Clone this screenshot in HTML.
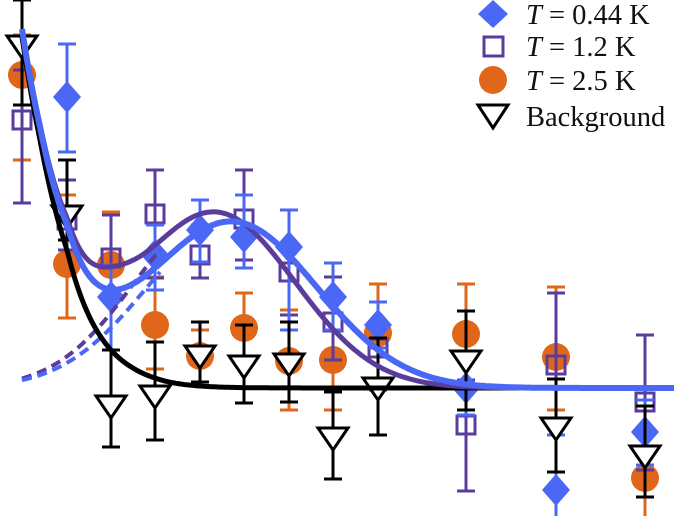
<!DOCTYPE html>
<html><head><meta charset="utf-8"><style>
html,body{margin:0;padding:0;background:#fff;width:674px;height:516px;overflow:hidden}
svg{display:block}
text{font-family:"Liberation Serif",serif;font-size:28.5px;fill:#111}
</style></head><body>
<svg id="s" width="674" height="516" viewBox="0 0 674 516" xmlns="http://www.w3.org/2000/svg">
<g id="pts"></g>
<g id="curves"></g>
<g>
<path d="M493,0 L508,14 L493,28 L478,14Z" fill="#4a68f5"/>
<text x="526" y="24"><tspan font-style="italic">T</tspan> = 0.44 K</text>
<rect x="484" y="37" width="19" height="19" fill="none" stroke="#5a3c9c" stroke-width="3"/>
<text x="526" y="56"><tspan font-style="italic">T</tspan> = 1.2 K</text>
<circle cx="493" cy="80" r="14" fill="#e0661a"/>
<text x="526" y="90"><tspan font-style="italic">T</tspan> = 2.5 K</text>
<path d="M478,105 L508,105 L493,128Z" fill="none" stroke="#000" stroke-width="3"/>
<text x="526" y="126">Background</text>
</g>
</svg>
<script>
var B='#4a68f5',P='#5a3c9c',O='#e0661a',K='#000';
var BX=[20,40,67,90,111,133,155,200,250,300,674],BD=[365,248,138,70,38,20,10,2,0.3,0.05,0.01];
function bg(x,sc){if(x<=BX[0])return BD[0]*sc;for(var i=0;i<BX.length-1;i++){if(x<=BX[i+1]){var t=(x-BX[i])/(BX[i+1]-BX[i]);return sc*Math.exp(Math.log(BD[i])*(1-t)+Math.log(BD[i+1])*t);}}return 0;}
function g(x,A,c,s){return A*Math.exp(-(x-c)*(x-c)/(2*s*s));}
function path(f,x0,x1){var d='';for(var x=x0;x<=x1;x+=2){d+=(x==x0?'M':'L')+x+','+f(x).toFixed(1);}return d;}
var cu='';
cu+='<path d="'+path(function(x){return 388-g(x,175,215,80);},22,160)+'" fill="none" stroke="'+P+'" stroke-width="4" stroke-dasharray="10,6"/>';
cu+='<path d="'+path(function(x){return 388-g(x,166,232,85);},22,160)+'" fill="none" stroke="'+B+'" stroke-width="4" stroke-dasharray="10,6"/>';
cu+='<path d="'+path(function(x){return 388-bg(x,1);},22,674)+'" fill="none" stroke="'+K+'" stroke-width="5"/>';
cu+='<path d="'+path(function(x){return 388-bg(x,1.0)-g(x,175,215,80)-8*Math.exp(-(x-111)*(x-111)/800);},24,674)+'" fill="none" stroke="'+P+'" stroke-width="5"/>';
cu+='<path d="'+path(function(x){return 388-bg(x,1.0)-g(x,166,232,85);},22,674)+'" fill="none" stroke="'+B+'" stroke-width="6"/>';
document.getElementById('curves').innerHTML=cu;
function eb(x,a,b,c){return '<path d="M'+x+','+a+'V'+b+'M'+(x-9)+','+a+'h18M'+(x-9)+','+b+'h18" stroke="'+c+'" stroke-width="3" fill="none"/>';}
var s='';
[[22,75,35,160],[67,264,195,318],[111,265,212,300],[155,325,277,369],[200,356,330,382],[244,328,293,365],[289,361,310,410],[333,360,313,410],[378,333,284,380],[466,334,284,390],[556,357,287,410],[645,478,430,520]].forEach(function(p){s+=eb(p[0],p[2],p[3],O)+'<circle cx="'+p[0]+'" cy="'+p[1]+'" r="14" fill="'+O+'"/>';});
[[22,120,70,203],[67,220,180,250],[111,258,215,300],[155,214,170,278],[200,255,225,278],[244,219,170,260],[289,272,210,315],[333,322,277,360],[378,348,302,390],[466,425,380,491],[556,365,293,420],[645,402,335,470]].forEach(function(p){s+=eb(p[0],p[2],p[3],P)+'<rect x="'+(p[0]-9)+'" y="'+(p[1]-9)+'" width="18" height="18" fill="none" stroke="'+P+'" stroke-width="3"/>';});
[[67,97,44,152],[111,297,265,350],[155,255,225,290],[200,230,200,262],[244,237,195,268],[289,247,210,330],[333,297,263,330],[378,325,302,348],[466,388,360,415],[556,490,435,520],[645,432,400,465]].forEach(function(p){var x=p[0],y=p[1];s+=eb(x,p[2],p[3],B)+'<path d="M'+x+','+(y-16)+' L'+(x+14)+','+y+' L'+x+','+(y+16)+' L'+(x-14)+','+y+'Z" fill="'+B+'"/>';});
[[22,45,0,105],[67,215,160,240],[111,405,350,447],[155,395,342,440],[200,355,322,382],[244,365,325,403],[289,363,322,402],[333,437,392,479],[378,387,338,435],[466,360,311,410],[556,427,379,472],[645,455,406,497]].forEach(function(p){var x=p[0],y=p[1];s+=eb(x,p[2],p[3],K)+'<path d="M'+(x-15)+','+(y-9)+' L'+(x+15)+','+(y-9)+' L'+x+','+(y+13)+'Z" fill="#fff" stroke="#000" stroke-width="3"/>';});
document.getElementById('pts').innerHTML=s;
</script>
</body></html>
